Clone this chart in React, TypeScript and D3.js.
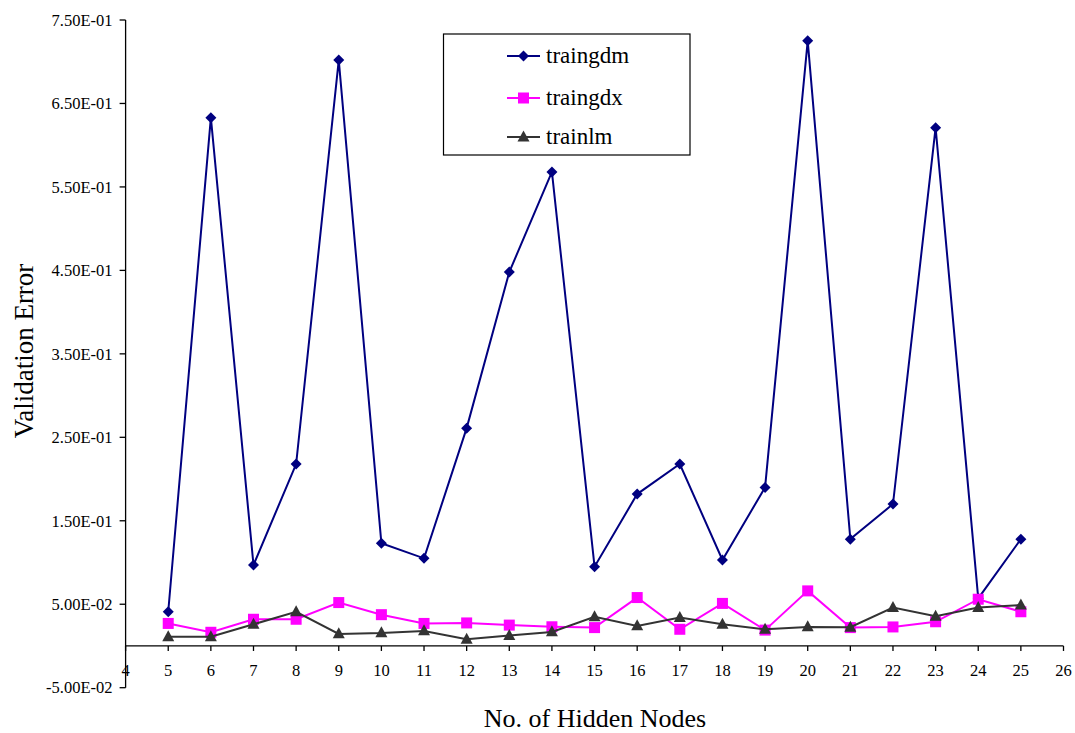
import React from "react";
import * as d3 from "d3";

const nodes = [5, 6, 7, 8, 9, 10, 11, 12, 13, 14, 15, 16, 17, 18, 19, 20, 21, 22, 23, 24, 25];
const traingdm = [0.041, 0.633, 0.097, 0.218, 0.702, 0.123, 0.105, 0.261, 0.448, 0.568, 0.095, 0.182, 0.218, 0.103, 0.19, 0.725, 0.128, 0.17, 0.621, 0.057, 0.128];
const traingdx = [0.027, 0.0164, 0.032, 0.032, 0.052, 0.0375, 0.027, 0.0276, 0.025, 0.023, 0.022, 0.058, 0.02, 0.051, 0.019, 0.066, 0.022, 0.0228, 0.029, 0.056, 0.041];
const trainlm = [0.011, 0.011, 0.026, 0.041, 0.0144, 0.0156, 0.018, 0.008, 0.0124, 0.0168, 0.035, 0.024, 0.034, 0.026, 0.02, 0.0228, 0.0224, 0.046, 0.0356, 0.046, 0.049];
const xTicks = d3.range(4, 27);
const yTicks = [-0.05, 0.05, 0.15, 0.25, 0.35, 0.45, 0.55, 0.65, 0.75];

const series = [
  { name: "traingdm", values: traingdm, color: "#000080", marker: "diamond" },
  { name: "traingdx", values: traingdx, color: "#FF00FF", marker: "square" },
  { name: "trainlm", values: trainlm, color: "#333333", marker: "triangle" },
];

const x = d3.scaleLinear().domain([4, 26]).range([125.6, 1063.5]);
const y = d3.scaleLinear().domain([-0.05, 0.75]).range([687.7, 20]);

const FONT = "Liberation Serif, DejaVu Serif, serif";

function Marker({ type, cx, cy, color }: { type: string; cx: number; cy: number; color: string }) {
  if (type === "diamond") {
    const r = 5.5;
    return <path d={`M${cx},${cy - r}L${cx + r},${cy}L${cx},${cy + r}L${cx - r},${cy}Z`} fill={color} />;
  }
  if (type === "square") {
    const s = 5.5;
    return <rect x={cx - s} y={cy - s} width={2 * s} height={2 * s} fill={color} />;
  }
  const h = 11, w = 12;
  return <path d={`M${cx},${cy - h * 0.6}L${cx + w / 2},${cy + h * 0.4}L${cx - w / 2},${cy + h * 0.4}Z`} fill={color} />;
}

function T(props: any) {
  const { style, ...rest } = props;
  return <text {...rest} style={{ fontFamily: FONT, ...(style || {}) }} />;
}

function fmt(t: number) {
  const [m, e] = t.toExponential(2).split("e");
  const n = parseInt(e, 10);
  const ee = String(Math.abs(n)).padStart(2, "0");
  return `${m}E${n < 0 ? "-" : "+"}${ee}`;
}

export default function App() {
  const line = d3.line<number>().x((_, i) => x(nodes[i])).y((v) => y(v));
  const y0 = y(0);
  return (
    <svg width={1075} height={733} style={{ position: "absolute", left: 0, top: 0, background: "#fff" }}>
      {/* y axis */}
      <line x1={x(4)} x2={x(4)} y1={y(0.75)} y2={y(-0.05)} stroke="#000" strokeWidth={1.3} />
      {yTicks.map((t) => (
        <g key={t}>
          <line x1={x(4) - 6} x2={x(4)} y1={y(t)} y2={y(t)} stroke="#000" strokeWidth={1.3} />
          <T x={112.5} y={y(t)} dy="0.35em" textAnchor="end" fontSize={16.5}>
            {fmt(t)}
          </T>
        </g>
      ))}
      {/* x axis at zero */}
      <line x1={x(4)} x2={x(26)} y1={y0} y2={y0} stroke="#000" strokeWidth={1.3} />
      {xTicks.map((t) => (
        <g key={t}>
          <line x1={x(t)} x2={x(t)} y1={y0} y2={y0 + 5} stroke="#000" strokeWidth={1.3} />
          <T x={x(t)} y={y0 + 30} textAnchor="middle" fontSize={16.5}>{t}</T>
        </g>
      ))}
      {/* series */}
      {series.map((s) => (
        <g key={s.name}>
          <path d={line(s.values) || ""} fill="none" stroke={s.color} strokeWidth={2} />
          {s.values.map((v, i) => (
            <Marker key={i} type={s.marker} cx={x(nodes[i])} cy={y(v)} color={s.color} />
          ))}
        </g>
      ))}
      {/* legend */}
      <rect x={443.5} y={34} width={246.5} height={121} fill="#fff" stroke="#000" strokeWidth={1.2} />
      {series.map((s, i) => {
        const ly = [56, 98, 137][i];
        return (
          <g key={s.name}>
            <line x1={507} x2={540} y1={ly} y2={ly} stroke={s.color} strokeWidth={2} />
            <Marker type={s.marker} cx={523.5} cy={ly} color={s.color} />
            <T x={546} y={ly} dy="0.3em" fontSize={23}>{s.name}</T>
          </g>
        );
      })}
      {/* axis titles */}
      <T transform={`translate(33,351) rotate(-90)`} textAnchor="middle" fontSize={27}>Validation Error</T>
      <T x={595} y={727} textAnchor="middle" fontSize={26}>No. of Hidden Nodes</T>
    </svg>
  );
}
